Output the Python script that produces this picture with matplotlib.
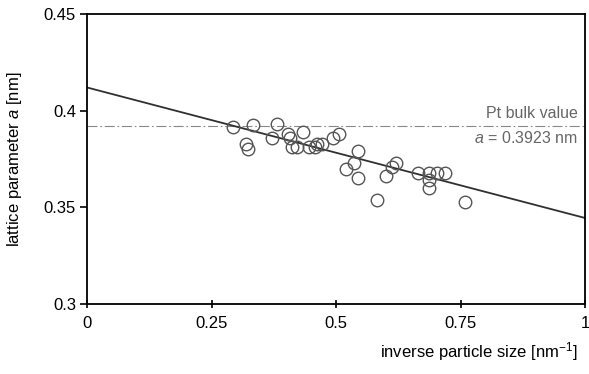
import matplotlib
matplotlib.use("Agg")
import matplotlib.pyplot as plt
import numpy as np

plt.rcParams['font.family'] = ['Liberation Sans', 'DejaVu Sans']
plt.rcParams['mathtext.fontset'] = 'custom'
plt.rcParams['mathtext.it'] = 'Liberation Sans:italic'
plt.rcParams['mathtext.rm'] = 'Liberation Sans'

# data
inv_size = [0.293, 0.319, 0.323, 0.333, 0.372, 0.381, 0.403, 0.407, 0.433,
            0.411, 0.421, 0.445, 0.457, 0.461, 0.471, 0.493, 0.507, 0.545,
            0.537, 0.521, 0.545, 0.583, 0.601, 0.613, 0.621, 0.665, 0.687,
            0.703, 0.719, 0.687, 0.687, 0.760]
lattice = [0.3915, 0.383, 0.380, 0.3925, 0.386, 0.393, 0.388, 0.386, 0.389,
           0.381, 0.381, 0.381, 0.381, 0.383, 0.383, 0.386, 0.388, 0.379,
           0.373, 0.370, 0.365, 0.354, 0.366, 0.371, 0.373, 0.368, 0.368,
           0.368, 0.368, 0.364, 0.360, 0.353]
fit_x = [0.0, 1.0]
fit_y = [0.412, 0.3445]
bulk_value = 0.3923
xticks = [0, 0.25, 0.5, 0.75, 1]
xtick_labels = ['0', '0.25', '0.5', '0.75', '1']
yticks = [0.3, 0.35, 0.4, 0.45]
ytick_labels = ['0.3', '0.35', '0.4', '0.45']

fig = plt.figure(figsize=(5.89, 3.74), dpi=100)
ax = fig.add_axes([87/589, 1-304/374, (585-87)/589, (304-14)/374])

ax.plot([0, 1], [bulk_value, bulk_value], color='#888888', lw=0.8,
        linestyle=(0, (9, 2.5, 1.5, 2.5)), zorder=1)
ax.plot(fit_x, fit_y, color='#303030', lw=1.3, zorder=2)
ax.plot(inv_size, lattice, linestyle='none', marker='o', markersize=9,
        markerfacecolor='none', markeredgecolor='#555555', markeredgewidth=1.0,
        zorder=3)

ax.set_xlim(0, 1)
ax.set_ylim(0.3, 0.45)
ax.set_xticks(xticks)
ax.set_xticklabels(xtick_labels)
ax.set_yticks(yticks)
ax.set_yticklabels(ytick_labels)
ax.tick_params(axis='x', direction='inout', length=6, width=1.2, labelsize=12,
               pad=6, colors='black')
ax.tick_params(axis='y', direction='out', length=5, width=1.2, labelsize=12,
               pad=3)
for s in ax.spines.values():
    s.set_linewidth(1.3)
    s.set_color('black')

ax.text(0.985, 0.3985, 'Pt bulk value', ha='right', va='center',
        fontsize=11.5, color='#666666')
ax.text(0.985, 0.386, '$a$ = 0.3923 nm', ha='right', va='center',
        fontsize=11.5, color='#666666')

fig.text(15/589, 1-159/374, 'lattice parameter $a$ [nm]', rotation=90,
         ha='center', va='center', fontsize=12)
fig.text(578/589, 1-352/374, 'inverse particle size [nm$^{\\mathrm{-1}}$]',
         ha='right', va='center', fontsize=12)

fig.savefig('out.png', dpi=100)
